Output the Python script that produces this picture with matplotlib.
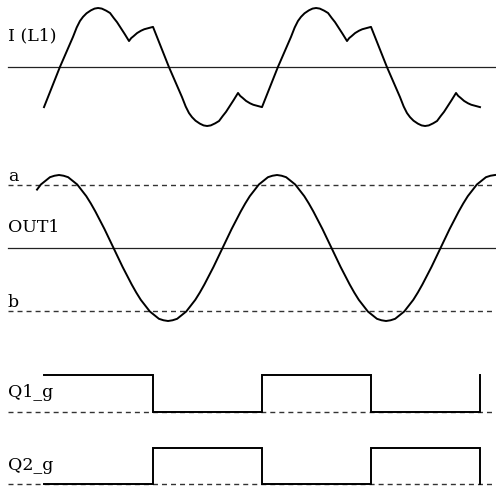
import matplotlib
matplotlib.use("Agg")
import matplotlib.pyplot as plt
import numpy as np

# time in switching periods (one period = one Q1_g high + low)
# I(L1), two periods
il1_t = [0.000, 0.073, 0.133, 0.150, 0.165, 0.179, 0.195, 0.215, 0.232, 0.248, 0.265, 0.285,
         0.303, 0.320, 0.335, 0.349, 0.370, 0.390, 0.400, 0.410, 0.427, 0.445, 0.460, 0.480, 0.500,
         0.573, 0.633, 0.650, 0.665, 0.679, 0.695, 0.715, 0.732, 0.748, 0.765, 0.785,
         0.803, 0.820, 0.835, 0.849, 0.870, 0.890, 0.900, 0.910, 0.927, 0.945, 0.960, 0.980, 1.000,
         1.073, 1.133, 1.150, 1.165, 1.179, 1.195, 1.215, 1.232, 1.248, 1.265, 1.285,
         1.303, 1.320, 1.335, 1.349, 1.370, 1.390, 1.400, 1.410, 1.427, 1.445, 1.460, 1.480, 1.500,
         1.573, 1.633, 1.650, 1.665, 1.679, 1.695, 1.715, 1.732, 1.748, 1.765, 1.785,
         1.803, 1.820, 1.835, 1.849, 1.870, 1.890, 1.900, 1.910, 1.927, 1.945, 1.960, 1.980, 2.000]
il1_v = [-0.68,
         0.00, 0.51, 0.67, 0.78, 0.85, 0.91, 0.96, 0.99, 1.00, 0.99, 0.955,
         0.915, 0.83, 0.76, 0.68, 0.56, 0.44, 0.49, 0.52, 0.575, 0.615, 0.64, 0.66, 0.68,
         0.00, -0.51, -0.67, -0.78, -0.85, -0.91, -0.96, -0.99, -1.00, -0.99, -0.955,
         -0.915, -0.83, -0.76, -0.68, -0.56, -0.44, -0.49, -0.52, -0.575, -0.615, -0.64, -0.66, -0.68,
         0.00, 0.51, 0.67, 0.78, 0.85, 0.91, 0.96, 0.99, 1.00, 0.99, 0.955,
         0.915, 0.83, 0.76, 0.68, 0.56, 0.44, 0.49, 0.52, 0.575, 0.615, 0.64, 0.66, 0.68,
         0.00, -0.51, -0.67, -0.78, -0.85, -0.91, -0.96, -0.99, -1.00, -0.99, -0.955,
         -0.915, -0.83, -0.76, -0.68, -0.56, -0.44, -0.49, -0.52, -0.575, -0.615, -0.64, -0.66, -0.68]

# OUT1: first point, then samples every 1/48 period from 4 steps before the first peak
out1_start_t, out1_start_v = -0.032, 0.80
out1_peak = 0.069
out1_samples = [0.87, 0.92, 0.97, 0.99,
                1.00, 0.99, 0.97, 0.92, 0.87, 0.79, 0.71, 0.61, 0.50, 0.38, 0.26, 0.13,
                0.00, -0.13, -0.26, -0.38, -0.50, -0.61, -0.71, -0.79, -0.87, -0.92, -0.97, -0.99,
                -1.00, -0.99, -0.97, -0.92, -0.87, -0.79, -0.71, -0.61, -0.50, -0.38, -0.26, -0.13,
                0.00, 0.13, 0.26, 0.38, 0.50, 0.61, 0.71, 0.79, 0.87, 0.92, 0.97, 0.99,
                1.00, 0.99, 0.97, 0.92, 0.87, 0.79, 0.71, 0.61, 0.50, 0.38, 0.26, 0.13,
                0.00, -0.13, -0.26, -0.38, -0.50, -0.61, -0.71, -0.79, -0.87, -0.92, -0.97, -0.99,
                -1.00, -0.99, -0.97, -0.92, -0.87, -0.79, -0.71, -0.61, -0.50, -0.38, -0.26, -0.13,
                0.00, 0.13, 0.26, 0.38, 0.50, 0.61, 0.71, 0.79, 0.87, 0.92, 0.97, 0.99,
                1.00]
out1_t = [out1_start_t] + list(out1_peak + np.arange(-4, len(out1_samples) - 4) / 48)
out1_v = [out1_start_v] + out1_samples
level_a = 0.86
level_b = -0.86

# gate signals: switching instants and states after them
q_t = [0.0, 0.5, 1.0, 1.5, 2.0]
q1_state = [1, 0, 1, 0, 1]
q2_state = [0, 1, 0, 1, 0]

W, H = 496, 486
fig = plt.figure(figsize=(W / 100, H / 100), dpi=100)
fig.patch.set_facecolor("white")

x0, period = 44, 218  # pixel of t=0 and pixels per period
tlim = ((0 - x0) / period, (W - x0) / period)
line_from = 8 / W

def lane(zero_px, ppu, lo, hi):
    ax = fig.add_axes([0, 1 - (zero_px - lo * ppu) / H, 1, (hi - lo) * ppu / H])
    ax.set_xlim(*tlim)
    ax.set_ylim(lo, hi)
    ax.axis("off")
    return ax

dash = (0, (3.6, 2.9))
sig = dict(color="black", lw=1.4, solid_joinstyle="round")

ax1 = lane(67, 59, -1.25, 1.25)
ax1.axhline(0, xmin=line_from, color="#222222", lw=0.9)
ax1.plot(il1_t, il1_v, **sig)

ax2 = lane(248, 73, -1.25, 1.25)
ax2.axhline(0, xmin=line_from, color="#222222", lw=0.9)
ax2.axhline(level_a, xmin=line_from, color="#333333", lw=1.0, linestyle=dash)
ax2.axhline(level_b, xmin=line_from, color="#333333", lw=1.0, linestyle=dash)
ax2.plot(out1_t, out1_v, **sig)

ax3 = lane(412, 37, -0.25, 1.25)
ax3.axhline(0, xmin=line_from, color="#333333", lw=1.0, linestyle=dash)
ax3.plot(q_t, q1_state, drawstyle="steps-post", color="black", lw=1.4, solid_joinstyle="miter")

ax4 = lane(484, 36, -0.25, 1.25)
ax4.axhline(0, xmin=line_from, color="#333333", lw=1.0, linestyle=dash)
ax4.plot(q_t, q2_state, drawstyle="steps-post", color="black", lw=1.4, solid_joinstyle="miter")

font = dict(family="DejaVu Serif", fontsize=12.5, va="baseline", ha="left", color="black")
labels = [("I (L1)", 40), ("a", 181), ("OUT1", 232), ("b", 307), ("Q1_g", 397), ("Q2_g", 470)]
for txt, base in labels:
    fig.text(8 / W, 1 - base / H, txt, **font)

fig.savefig("out.png", dpi=100, facecolor="white")
